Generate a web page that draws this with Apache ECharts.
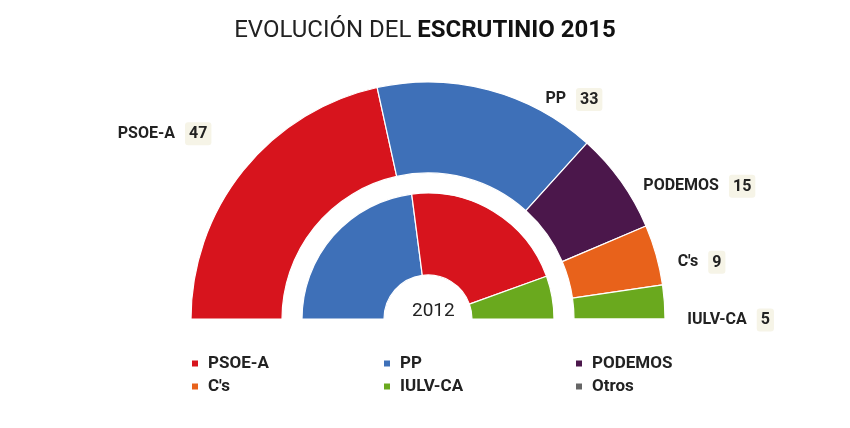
<!DOCTYPE html>
<html>
<head>
<meta charset="utf-8">
<script src="https://cdn.jsdelivr.net/npm/echarts@6/dist/echarts.min.js"></script>
<style>html,body{margin:0;padding:0;background:#fff;}#c{width:850px;height:428px;}</style>
</head>
<body>
<div id="c"></div>
<script>
// 2015 results (outer ring)
const parties2015 = ['PSOE-A', 'PP', 'PODEMOS', "C's", 'IULV-CA', 'Otros'];
const seats2015 = [47, 33, 15, 9, 5, 0];
// 2012 results (inner ring)
const parties2012 = ['PP', 'PSOE-A', 'IULV-CA'];
const seats2012 = [50, 47, 12];
// legend columns
const legendCol1 = ['PSOE-A', "C's"];
const legendCol2 = ['PP', 'IULV-CA'];
const legendCol3 = ['PODEMOS', 'Otros'];

// layout: nudges of the outer labels (dx, dy) relative to ECharts' outside placement
const labelNudges = [[-16, -28], [48, 23], [6, 13], [3, 11], [4, 19], [0, 0]];

const partyColors = {
  'PSOE-A': '#d7141d',
  'PP': '#3e70b8',
  'PODEMOS': '#4b174b',
  "C's": '#e8621b',
  'IULV-CA': '#6aa91e',
  'Otros': '#666666'
};

const chart = echarts.init(document.getElementById('c'), null, {renderer: 'canvas'});

const outerData = parties2015.map((p, i) => ({
  name: p, value: seats2015[i],
  itemStyle: {color: partyColors[p]},
  label: {show: seats2015[i] > 0}
}));
const innerData = parties2012.map((p, i) => ({
  name: p, value: seats2012[i],
  itemStyle: {color: partyColors[p]}
}));

const legendCommon = {
  orient: 'vertical',
  top: 350,
  itemWidth: 8,
  itemHeight: 8,
  itemGap: 6,
  icon: 'rect',
  selectedMode: false,
  textStyle: {fontFamily: 'Roboto', fontWeight: 'bold', fontSize: 17, color: '#222', padding: [0, 0, 0, 4]}
};

chart.setOption({
  backgroundColor: '#fff',
  animation: false,
  title: [{
    text: '{r|EVOLUCIÓN DEL }{b|ESCRUTINIO 2015}',
    left: 'center',
    top: 14,
    textStyle: {
      rich: {
        r: {fontFamily: 'Roboto', fontSize: 24, fontWeight: 'normal', color: '#222'},
        b: {fontFamily: 'Roboto', fontSize: 24, fontWeight: 'bold', color: '#111'}
      }
    }
  }, {
    text: '2012',
    left: 407,
    top: 297,
    textStyle: {fontFamily: 'Roboto', fontSize: 19, fontWeight: 'normal', color: '#222'}
  }],
  legend: [
    Object.assign({}, legendCommon, {left: 185, data: legendCol1}),
    Object.assign({}, legendCommon, {left: 377, data: legendCol2}),
    Object.assign({}, legendCommon, {left: 569, data: legendCol3})
  ],
  series: [{
    type: 'pie',
    name: '2015',
    center: [428, 319],
    radius: [146, 237],
    startAngle: 180,
    endAngle: 0,
    clockwise: true,
    avoidLabelOverlap: false,
    itemStyle: {borderColor: '#fff', borderWidth: 1.2},
    label: {
      position: 'outside',
      formatter: '{n|{b}}{v|{c}}',
      rich: {
        n: {fontFamily: 'Roboto', fontSize: 16, fontWeight: 'bold', color: '#222', padding: [0, 10, 0, 0]},
        v: {fontFamily: 'Roboto', fontSize: 16, fontWeight: 'bold', color: '#222', backgroundColor: '#f6f4e7', padding: [4, 4, 3, 4], borderRadius: 3}
      }
    },
    labelLine: {show: false, length: 14, length2: 0},
    labelLayout: function (params) {
      const n = labelNudges[params.dataIndex] || [0, 0];
      return {dx: n[0], dy: n[1]};
    },
    emphasis: {disabled: true},
    data: outerData
  }, {
    type: 'pie',
    name: '2012',
    center: [428, 319],
    radius: [44, 126],
    startAngle: 180,
    endAngle: 0,
    clockwise: true,
    itemStyle: {borderColor: '#fff', borderWidth: 1.2},
    label: {show: false},
    labelLine: {show: false},
    emphasis: {disabled: true},
    data: innerData
  }]
});
</script>
</body>
</html>
